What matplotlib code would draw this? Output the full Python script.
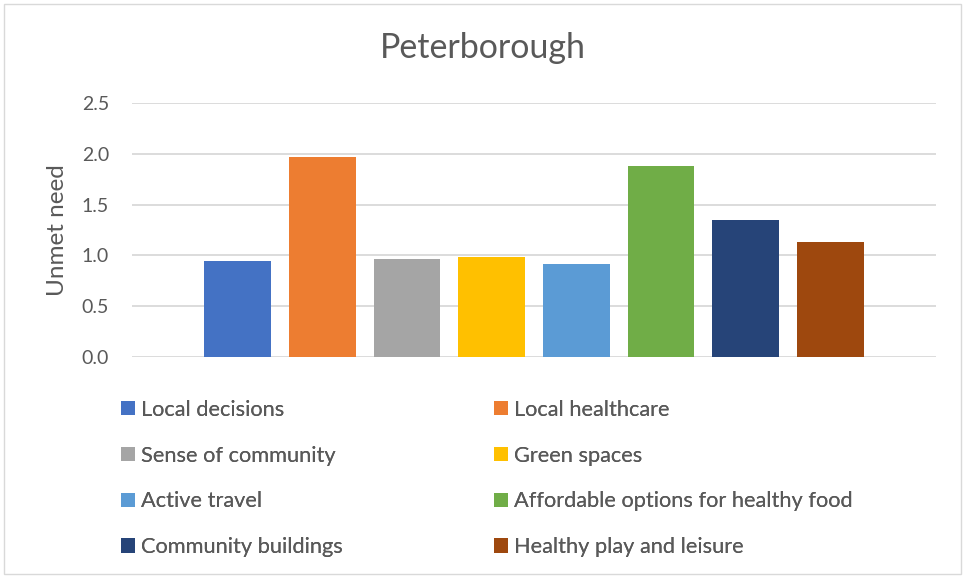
import matplotlib
matplotlib.use("Agg")
import matplotlib.pyplot as plt
from matplotlib.patches import Patch, Rectangle

plt.rcParams['font.family'] = ['Lato', 'DejaVu Sans']

# Necessidade não atendida por tema - Peterborough
temas = ["Local decisions", "Local healthcare", "Sense of community", "Green spaces",
         "Active travel", "Affordable options for healthy food", "Community buildings",
         "Healthy play and leisure"]
valores = [0.944, 1.966, 0.964, 0.984, 0.915, 1.88, 1.35, 1.13]
cores = ["#4472C4", "#ED7D31", "#A5A5A5", "#FFC000", "#5B9BD5", "#70AD47", "#264478", "#9E480E"]

cor_texto = "#595959"
cor_grade = "#D9D9D9"

fig = plt.figure(figsize=(9.65, 5.78), dpi=100)
ax = fig.add_axes([132/965, 1-356.7/578, 804/965, 253.4/578])

pos = list(range(len(valores)))
ax.bar(pos, valores, width=0.788, color=cores, zorder=3)
ax.set_xlim(-1.245, len(valores) - 1 + 1.245)
ax.set_ylim(0, 2.5)
ax.set_yticks([0, 0.5, 1.0, 1.5, 2.0, 2.5])
ax.set_yticklabels(["0.0", "0.5", "1.0", "1.5", "2.0", "2.5"])
ax.set_xticks([])
ax.yaxis.grid(True, color=cor_grade, linewidth=1.3, zorder=0)
for s in ax.spines.values():
    s.set_visible(False)
ax.tick_params(axis="y", length=0, pad=16.5, labelsize=14, labelcolor=cor_texto)
ax.set_ylabel("Unmet need", fontsize=17.5, color=cor_texto)
ax.yaxis.set_label_coords(-0.079, 0.5)

fig.text(0.5, 1-48/578, "Peterborough", ha="center", va="center", fontsize=24.5, color=cor_texto)

# legenda em duas colunas (Excel preenche por linha)
handles = [Patch(facecolor=c, edgecolor="none") for c in cores]
for col, x0 in [(0, 121), (1, 494)]:
    idx = list(range(col, len(temas), 2))
    leg = fig.legend([handles[i] for i in idx], [temas[i] for i in idx],
                     loc="upper left", bbox_to_anchor=(x0/965, 1-400/578),
                     frameon=False, fontsize=15.7, labelcolor=cor_texto,
                     handlelength=0.62, handleheight=0.62, handletextpad=0.28,
                     labelspacing=1.18, borderpad=0, borderaxespad=0)
    fig.add_artist(leg)

# moldura do gráfico
fig.add_artist(Rectangle((4/965, 4/578), 957/965, 570/578, transform=fig.transFigure,
                         fill=False, edgecolor=cor_grade, linewidth=1))

fig.savefig("out.png", dpi=100)
